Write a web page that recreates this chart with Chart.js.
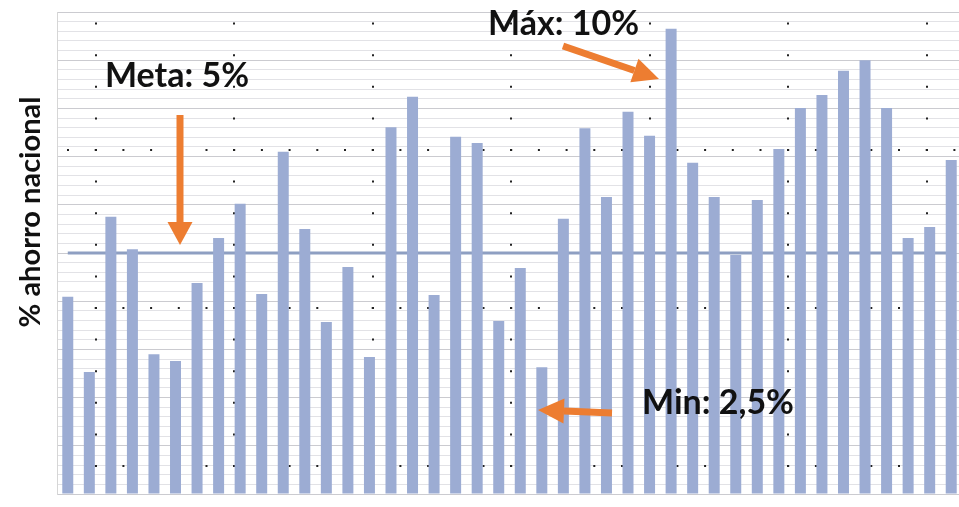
<!DOCTYPE html>
<html>
<head>
<meta charset="utf-8">
<script src="https://cdn.jsdelivr.net/npm/chart.js@4"></script>
<style>
  html, body { margin: 0; padding: 0; background: #fff; overflow: hidden; }
  #wrap { width: 966px; height: 507px; position: relative; }
</style>
</head>
<body>
<div id="wrap"><canvas id="myChart"></canvas></div>
<script>
// ahorro nacional (%) por periodo
const periods = ["1","2","3","4","5","6","7","8","9","10","11","12","13","14","15","16","17","18","19","20","21",
                 "22","23","24","25","26","27","28","29","30","31","32","33","34","35","36","37","38","39","40","41","42"];
const ahorro = [4.09, 2.53, 5.75, 5.08, 2.90, 2.76, 4.38, 5.31, 6.02, 4.15, 7.10, 5.50, 3.57, 4.71,
                2.84, 7.61, 8.24, 4.13, 7.41, 7.28, 3.59, 4.69, 2.63, 5.71, 7.59, 6.16, 7.93, 7.43,
                9.65, 6.87, 6.16, 4.96, 6.10, 7.16, 8.01, 8.28, 8.78, 9.00, 8.01, 5.31, 5.54, 6.93];
const meta = 5;
const metaLine = periods.map(() => meta);
const yMin = 0, yMax = 10, yStep = 0.2;

const ORANGE = '#ED7D31';

function arrow(ctx, x1, y1, x2, y2, w, headLen, headW) {
  const a = Math.atan2(y2 - y1, x2 - x1);
  const bx = x2 - headLen * Math.cos(a), by = y2 - headLen * Math.sin(a);
  ctx.save();
  ctx.strokeStyle = ORANGE;
  ctx.fillStyle = ORANGE;
  ctx.lineWidth = w;
  ctx.lineCap = 'butt';
  ctx.beginPath();
  ctx.moveTo(x1, y1);
  ctx.lineTo(bx, by);
  ctx.stroke();
  ctx.beginPath();
  ctx.moveTo(x2, y2);
  ctx.lineTo(bx + headW / 2 * Math.sin(a), by - headW / 2 * Math.cos(a));
  ctx.lineTo(bx - headW / 2 * Math.sin(a), by + headW / 2 * Math.cos(a));
  ctx.closePath();
  ctx.fill();
  ctx.restore();
}

const notes = {
  id: 'notes',
  afterDraw(chart) {
    const ctx = chart.ctx;
    ctx.save();
    ctx.fillStyle = '#111';
    ctx.font = 'bold 34px Lato';
    ctx.textBaseline = 'alphabetic';
    ctx.fillText('Meta: 5%', 105, 87);
    ctx.fillText('Máx: 10%', 488, 35);
    ctx.fillText('Min: 2,5%', 642, 414);
    // titulo eje y
    ctx.font = 'bold 29px Lato';
    ctx.translate(40, 212);
    ctx.rotate(-Math.PI / 2);
    ctx.textAlign = 'center';
    ctx.fillText('% ahorro nacional', 0, 0);
    ctx.restore();

    arrow(ctx, 180, 115, 180, 245, 7, 23, 25);
    arrow(ctx, 563, 46, 659, 79, 7, 26, 25);
    arrow(ctx, 612, 413, 538, 410, 7, 26, 25);
  }
};

new Chart(document.getElementById('myChart'), {
  data: {
    labels: periods,
    datasets: [
      {
        type: 'bar',
        data: ahorro,
        backgroundColor: '#9CACD3',
        categoryPercentage: 1,
        barPercentage: 0.51,
        order: 1
      },
      {
        type: 'line',
        data: metaLine,
        borderColor: '#8E9FC2',
        borderWidth: 3,
        pointRadius: 0,
        order: 2
      }
    ]
  },
  options: {
    responsive: true,
    maintainAspectRatio: false,
    animation: false,
    layout: { padding: { top: 12, right: 4, bottom: 13, left: 0 } },
    plugins: { legend: { display: false }, tooltip: { enabled: false } },
    scales: {
      x: {
        display: false
      },
      y: {
        min: yMin,
        max: yMax,
        ticks: { display: false, stepSize: yStep, maxTicksLimit: 100, autoSkip: false },
        grid: {
          drawTicks: false,
          lineWidth: 1,
          color: c => {
            const v = c.tick.value;
            return Math.abs(v - Math.round(v)) < 1e-6 ? 'rgba(160,160,170,0.55)' : 'rgba(190,190,200,0.45)';
          }
        },
        border: { display: true, color: '#d6d6d6' },
        afterFit: s => { s.width = 57; }
      },
      xDots: {
        type: 'linear',
        position: 'bottom',
        min: -0.2816,
        max: 6.253,
        afterBuildTicks: s => { s.ticks = [0, 1, 2, 3, 4, 5, 6].map(v => ({ value: v })); },
        ticks: { display: false },
        grid: { drawTicks: false, color: '#222', lineWidth: 2 },
        border: { display: false, dash: [2, 29.6], dashOffset: 21 },
        afterFit: s => { s.height = 0; }
      },
      yDots: {
        type: 'linear',
        position: 'left',
        min: -0.177,
        max: 2.873,
        afterBuildTicks: s => { s.ticks = [0, 1, 2].map(v => ({ value: v })); },
        ticks: { display: false },
        grid: { drawTicks: false, color: '#222', lineWidth: 2 },
        border: { display: false, dash: [2, 25.7], dashOffset: 17.7 },
        afterFit: s => { s.width = 0; }
      }
    }
  },
  plugins: [notes]
});
</script>
</body>
</html>
